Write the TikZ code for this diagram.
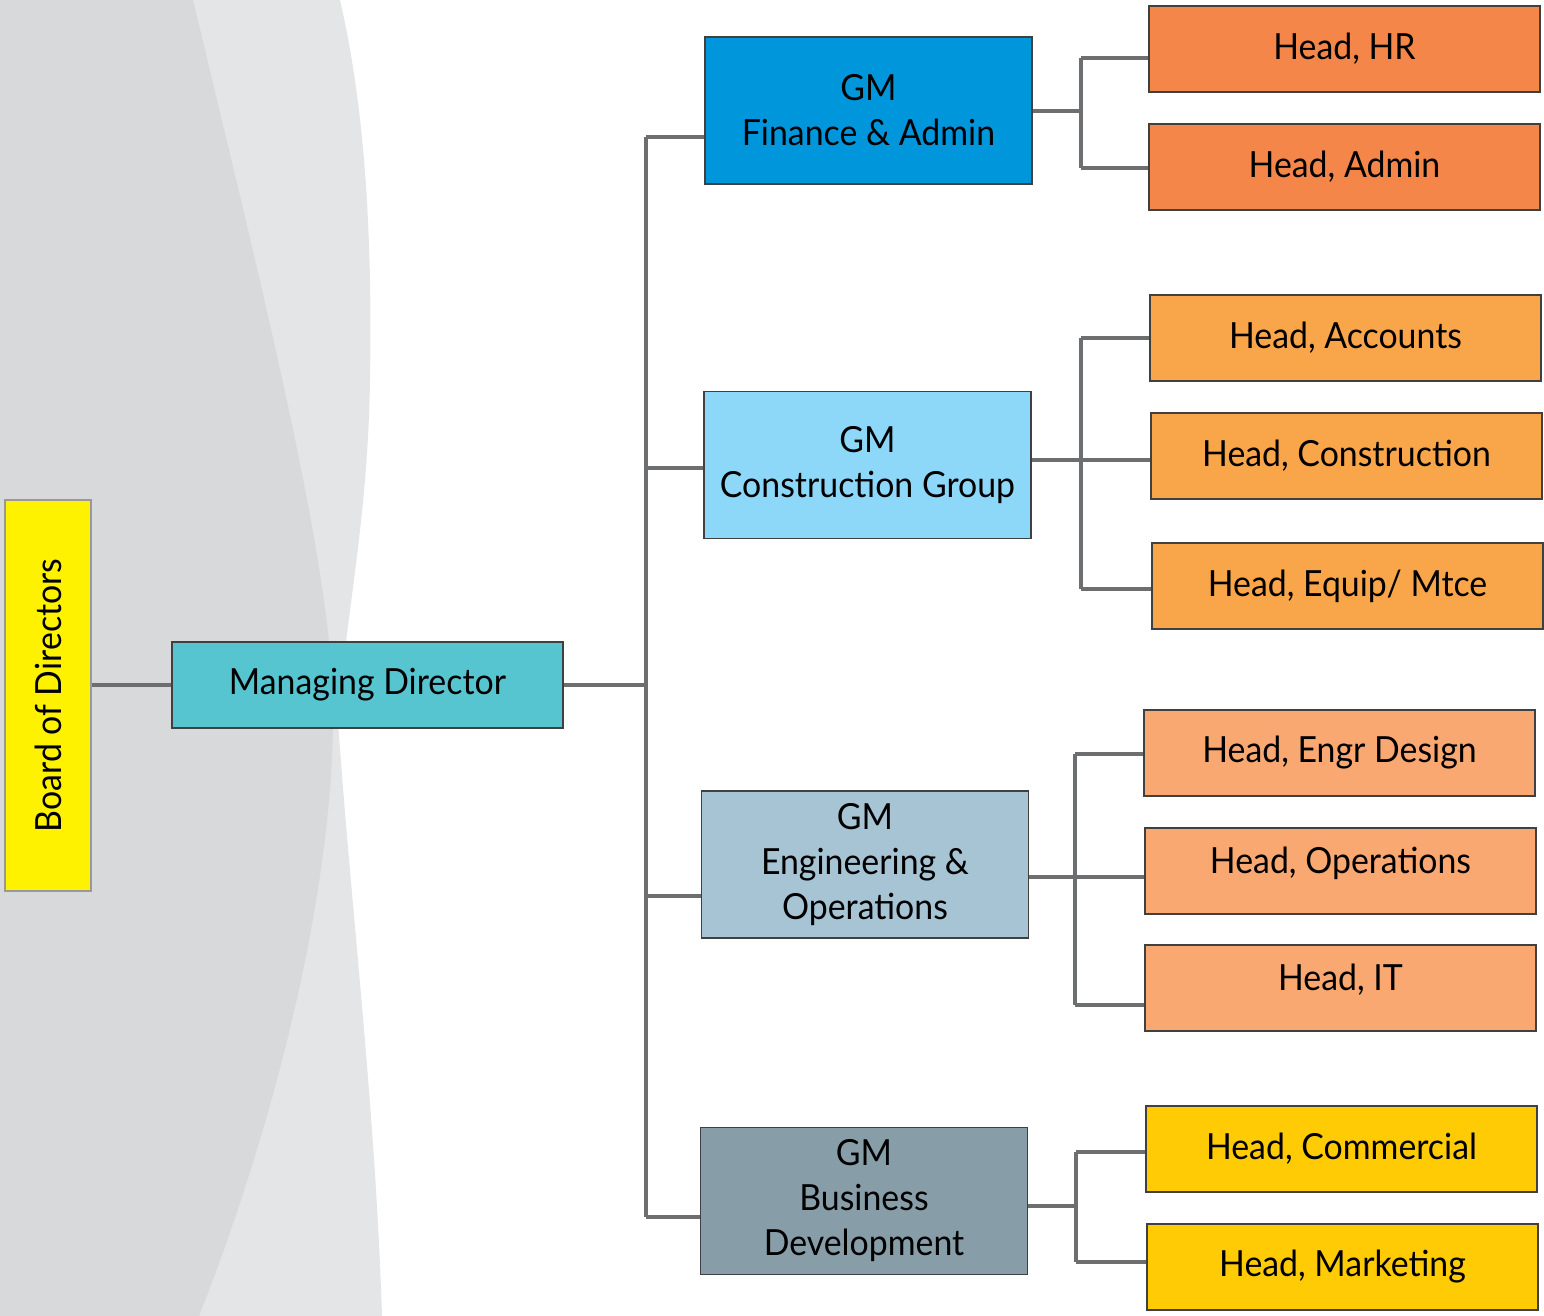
\documentclass[tikz,border=0pt]{standalone}
\usepackage{fontspec}
\setmainfont{Lato}[FakeStretch=0.94]
\definecolor{conn}{HTML}{6D6E70}
\definecolor{bgdark}{HTML}{D8D9DB}
\definecolor{bglight}{HTML}{E4E5E6}
\definecolor{cbod}{HTML}{FFF200}
\definecolor{cmd}{HTML}{56C5D0}
\definecolor{cfa}{HTML}{0096DB}
\definecolor{ccg}{HTML}{8DD8F8}
\definecolor{ceo}{HTML}{A7C4D5}
\definecolor{cbd}{HTML}{879EA9}
\definecolor{hfa}{HTML}{F5864A}
\definecolor{hcg}{HTML}{F9A54A}
\definecolor{heo}{HTML}{F8A870}
\definecolor{hbd}{HTML}{FFCB05}
\begin{document}
\begin{tikzpicture}[x=1pt,y=-1pt,
  box/.style={draw=black!75,line width=1.2pt,inner sep=0pt,align=center,
    font=\fontsize{36}{45}\selectfont,text=black},
  gmbox/.style={box,minimum width=327pt,minimum height=147pt},
  headbox/.style={box,minimum width=391pt,minimum height=86pt},
  link/.style={draw=conn,line width=3.2pt}]
\useasboundingbox (0,0) rectangle (1544,1316);
% background
\fill[bglight] (0,0) -- (340,0) .. controls (368,120) and (372,260) .. (370,380)
  .. controls (368,520) and (345,620) .. (338,720)
  .. controls (350,900) and (375,1100) .. (382,1316) -- (0,1316) -- cycle;
\fill[bgdark] (0,0) -- (193,0) .. controls (265,300) and (330,560) .. (333,700)
  .. controls (336,900) and (265,1150) .. (199,1316) -- (0,1316) -- cycle;
% nodes
\node[box,draw=black!40,fill=cbod,minimum width=86pt,minimum height=391pt] (bod) at (48,695.5) {};
\node[rotate=90,font=\fontsize{36}{45}\selectfont] (bodt) at (bod.center) {Board of Directors};
\node[box,fill=cmd,minimum width=391pt,minimum height=86pt] (md) at (367.5,685) {Managing Director};
\node[gmbox,fill=cfa] (gmfa) at (868.5,110.5) {GM\\Finance \& Admin};
\node[gmbox,fill=ccg] (gmcg) at (867.5,465) {GM\\Construction Group};
\node[gmbox,fill=ceo] (gmeo) at (865,864.5) {GM\\Engineering \&\\Operations};
\node[gmbox,fill=cbd] (gmbd) at (864,1201) {GM\\Business\\Development};
\node[headbox,fill=hfa] (hr) at (1344.5,49) {Head, HR};
\node[headbox,fill=hfa] (adm) at (1344.5,167) {Head, Admin};
\node[headbox,fill=hcg] (acc) at (1345.5,338) {Head, Accounts};
\node[headbox,fill=hcg] (con) at (1346.5,456) {Head, Construction};
\node[headbox,fill=hcg] (eqp) at (1347.5,586) {Head, Equip/ Mtce};
\node[headbox,fill=heo] (eng) at (1339.5,753) {Head, Engr Design};
\node[headbox,fill=heo,text depth=22pt] (ops) at (1340.5,871) {Head, Operations};
\node[headbox,fill=heo,text depth=22pt] (it) at (1340.5,988) {Head, IT};
\node[headbox,fill=hbd] (com) at (1341.5,1149) {Head, Commercial};
\node[headbox,fill=hbd] (mkt) at (1342.5,1267) {Head, Marketing};
% bus coordinates
\coordinate (m0) at (646,685);
\coordinate (m1) at (646,137);
\coordinate (m2) at (646,468);
\coordinate (m3) at (646,896);
\coordinate (m4) at (646,1217);
\coordinate (a0) at (1081,111);
\coordinate (a1) at (1081,58);
\coordinate (a2) at (1081,168);
\coordinate (b0) at (1081,460);
\coordinate (b1) at (1081,338);
\coordinate (b3) at (1081,589);
\coordinate (c0) at (1075,877);
\coordinate (c1) at (1075,754);
\coordinate (c3) at (1075,1005);
\coordinate (d0) at (1076,1206);
\coordinate (d1) at (1076,1152);
\coordinate (d2) at (1076,1262);
% connectors
\draw[link] (bod.east |- md.west) -- (md.west);
\draw[link] (md.east) -- (m0);
\draw[link] (m1) -- (m4);
\draw[link] (m1) -- (m1 -| gmfa.west);
\draw[link] (m2) -- (m2 -| gmcg.west);
\draw[link] (m3) -- (m3 -| gmeo.west);
\draw[link] (m4) -- (m4 -| gmbd.west);
\draw[link] (gmfa.east |- a0) -- (a0);
\draw[link] (a1) -- (a2);
\draw[link] (a1) -- (a1 -| hr.west);
\draw[link] (a2) -- (a2 -| adm.west);
\draw[link] (gmcg.east |- b0) -- (b0 -| con.west);
\draw[link] (b1) -- (b3);
\draw[link] (b1) -- (b1 -| acc.west);
\draw[link] (b3) -- (b3 -| eqp.west);
\draw[link] (gmeo.east |- c0) -- (c0 -| ops.west);
\draw[link] (c1) -- (c3);
\draw[link] (c1) -- (c1 -| eng.west);
\draw[link] (c3) -- (c3 -| it.west);
\draw[link] (gmbd.east |- d0) -- (d0);
\draw[link] (d1) -- (d2);
\draw[link] (d1) -- (d1 -| com.west);
\draw[link] (d2) -- (d2 -| mkt.west);
\end{tikzpicture}
\end{document}
